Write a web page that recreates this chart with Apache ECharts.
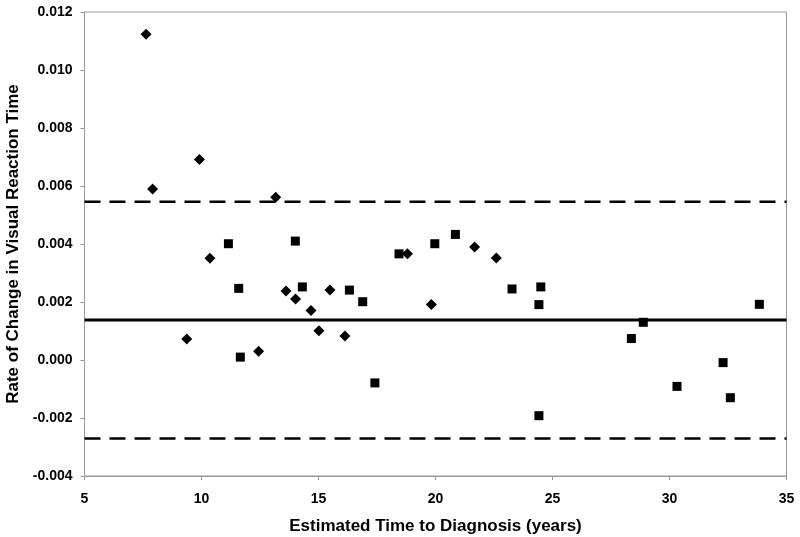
<!DOCTYPE html>
<html>
<head>
<meta charset="utf-8">
<script src="https://cdn.jsdelivr.net/npm/echarts@6/dist/echarts.min.js"></script>
<style>
  html, body { margin: 0; padding: 0; background: #fff; }
  #chart { width: 800px; height: 537px; }
</style>
</head>
<body>
<div id="chart"></div>
<script>
// diamonds
const diamondX = [7.63, 7.91, 9.91, 13.17, 9.37, 10.36, 12.44, 13.61, 14.02, 14.68, 15.02, 15.49, 16.13, 18.80, 19.82, 21.67, 22.60];
const diamondY = [0.01123, 0.0059, 0.00691, 0.00561, 0.00072, 0.00351, 0.00030, 0.00238, 0.00210, 0.00171, 0.00101, 0.00241, 0.00083, 0.00366, 0.00191, 0.00390, 0.00352];

// squares
const squareX = [11.15, 11.59, 11.66, 14.01, 14.31, 16.32, 16.89, 17.41, 18.44, 19.97, 20.85, 23.27, 24.50, 24.42, 24.42, 28.37, 28.88, 30.32, 32.29, 32.60, 33.84];
const squareY = [0.00401, 0.00247, 0.00010, 0.00410, 0.00252, 0.00241, 0.00201, -0.00079, 0.00366, 0.00401, 0.00433, 0.00245, 0.00252, 0.00191, -0.00192, 0.00074, 0.00130, -0.00091, -0.00009, -0.00130, 0.00192];

// reference lines
const meanLine = 0.00138;
const upperLine = 0.00546;
const lowerLine = -0.00271;
const xRange = [5, 35];

const pairs = (xs, ys) => xs.map((x, i) => [x, ys[i]]);
const hLine = v => xRange.map(x => [x, v]);

const axisGray = '#999999';
const labelFont = { color: '#000', fontFamily: 'Liberation Sans, Arial', fontWeight: 'bold', fontSize: 14 };

const chart = echarts.init(document.getElementById('chart'), null, { renderer: 'canvas' });

chart.setOption({
  animation: false,
  backgroundColor: '#fff',
  grid: {
    left: 84.5, right: 13.5, top: 12, bottom: 61,
    containLabel: false, outerBoundsMode: 'none',
    show: true, borderColor: axisGray, borderWidth: 1
  },
  xAxis: {
    type: 'value',
    min: 5, max: 35, interval: 5,
    name: 'Estimated Time to Diagnosis (years)',
    nameLocation: 'middle',
    nameGap: 42,
    nameTextStyle: { color: '#000', fontFamily: 'Liberation Sans, Arial', fontWeight: 'bold', fontSize: 17 },
    axisLine: { onZero: false, lineStyle: { color: axisGray, width: 1 } },
    axisTick: { show: true, length: 4, lineStyle: { color: axisGray } },
    axisLabel: Object.assign({ margin: 16 }, labelFont),
    splitLine: { show: false }
  },
  yAxis: {
    type: 'value',
    min: -0.004, max: 0.012, interval: 0.002,
    name: 'Rate of Change in Visual Reaction Time',
    nameLocation: 'middle',
    nameGap: 59,
    nameTextStyle: { color: '#000', fontFamily: 'Liberation Sans, Arial', fontWeight: 'bold', fontSize: 17 },
    axisLine: { show: true, onZero: false, lineStyle: { color: axisGray, width: 1 } },
    axisTick: { show: true, length: 4, lineStyle: { color: axisGray } },
    axisLabel: Object.assign({ margin: 12, formatter: v => v.toFixed(3) }, labelFont),
    splitLine: { show: false }
  },
  series: [
    {
      type: 'line', data: hLine(upperLine), symbol: 'none', silent: true,
      lineStyle: { color: '#000', width: 2.5, type: [16, 9] }
    },
    {
      type: 'line', data: hLine(lowerLine), symbol: 'none', silent: true,
      lineStyle: { color: '#000', width: 2.5, type: [16, 9] }
    },
    {
      type: 'line', data: hLine(meanLine), symbol: 'none', silent: true,
      lineStyle: { color: '#000', width: 3 }
    },
    {
      type: 'scatter', data: pairs(diamondX, diamondY),
      symbol: 'diamond', symbolSize: [11, 11],
      itemStyle: { color: '#000', opacity: 1 }
    },
    {
      type: 'scatter', data: pairs(squareX, squareY),
      symbol: 'rect', symbolSize: 9,
      itemStyle: { color: '#000', opacity: 1 }
    }
  ]
});
</script>
</body>
</html>
